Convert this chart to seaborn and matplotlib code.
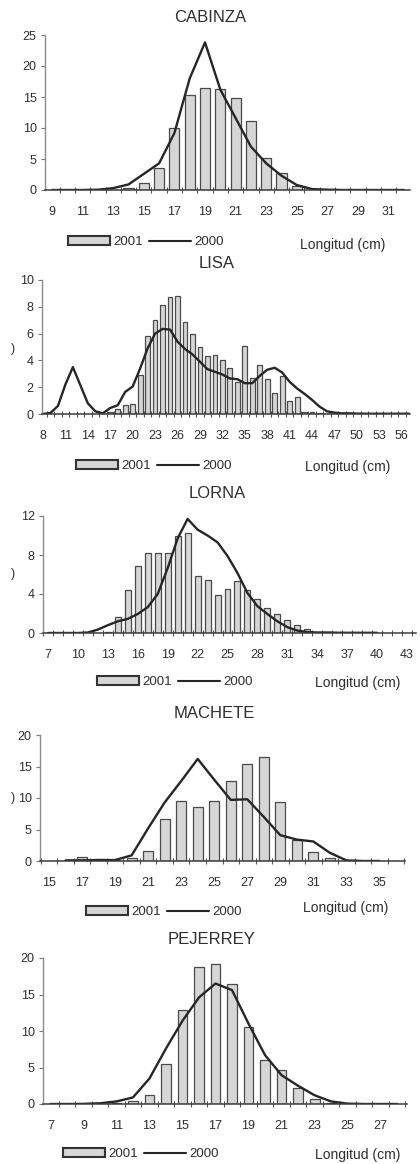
import numpy as np
import matplotlib
matplotlib.use("Agg")
import matplotlib.pyplot as plt
import seaborn as sns
from matplotlib.patches import Patch
from matplotlib.lines import Line2D
from matplotlib.ticker import FixedLocator

# ---------------- data: length-frequency (%) per species ----------------
# CABINZA
cab_bar_len = [14, 15, 16, 17, 18, 19, 20, 21, 22, 23, 24, 25]
cab_bar_pct = [0.3, 1.2, 3.5, 10.0, 15.3, 16.5, 16.3, 14.8, 11.2, 5.2, 2.7, 0.6]
cab_line_len = list(range(9, 33))
cab_line_pct = [0, 0, 0, 0.05, 0.3, 0.9, 2.6, 4.3, 9.2, 18.0, 23.8, 16.2,
                11.6, 7.0, 4.3, 2.3, 0.8, 0.15, 0.05, 0, 0, 0, 0, 0]
cab_xticks = list(range(9, 32, 2))
cab_yticks = [0, 5, 10, 15, 20, 25]

# LISA
lisa_bar_len = list(range(17, 46))
lisa_bar_pct = [0.15, 0.37, 0.65, 0.75, 2.9, 5.8, 7.0, 8.1, 8.7, 8.8, 6.9, 6.0,
                5.0, 4.3, 4.4, 4.0, 3.4, 2.4, 5.1, 2.65, 3.65, 2.6, 1.55, 2.8,
                0.95, 1.3, 0.17, 0.12, 0.08]
lisa_line_len = list(range(8, 58))
lisa_line_pct = [0, 0.08, 0.6, 2.2, 3.5, 2.15, 0.8, 0.2, 0.05, 0.45, 0.65,
                 1.65, 2.05, 3.4, 4.9, 6.0, 6.35, 6.3, 5.4, 4.85, 4.45, 3.9,
                 3.35, 3.15, 2.95, 2.65, 2.6, 2.3, 2.3, 2.85, 3.3, 3.45, 3.1,
                 2.4, 1.9, 1.5, 1.05, 0.55, 0.2, 0.1, 0.05, 0.05, 0.03, 0.02,
                 0.02, 0.02, 0.02, 0.02, 0.02, 0.02]
lisa_xticks = list(range(8, 57, 3))
lisa_yticks = [0, 2, 4, 6, 8, 10]

# LORNA
lorna_bar_len = list(range(13, 35))
lorna_bar_pct = [0.1, 1.6, 4.4, 6.9, 8.2, 8.2, 8.25, 10.0, 10.3, 5.8, 5.4, 3.85,
                 4.5, 5.35, 4.45, 3.5, 2.55, 1.95, 1.35, 0.8, 0.4, 0.1]
lorna_line_len = list(range(7, 41))
lorna_line_pct = [0, 0, 0, 0, 0.05, 0.35, 0.8, 1.2, 1.45, 1.95, 2.65, 4.0, 6.65,
                  9.7, 11.7, 10.6, 10.0, 9.3, 7.9, 6.15, 4.1, 2.75, 1.95, 1.2,
                  0.6, 0.25, 0.1, 0.05, 0.05, 0.03, 0.02, 0.02, 0.02, 0.02]
lorna_xticks = list(range(7, 44, 3))
lorna_yticks = [0, 4, 8, 12]

# MACHETE
mach_bar_len = list(range(17, 33))
mach_bar_pct = [0.65, 0.3, 0.2, 0.5, 1.55, 6.6, 9.5, 8.6, 9.55, 12.7, 15.4,
                16.45, 9.3, 3.3, 1.45, 0.4]
mach_line_len = list(range(16, 36))
mach_line_pct = [0.1, 0.1, 0.15, 0.15, 0.9, 5.2, 9.3, 12.7, 16.2, 12.9, 9.7,
                 9.8, 7.0, 4.1, 3.4, 3.1, 1.3, 0.1, 0, 0]
mach_xticks = list(range(15, 36, 2))
mach_yticks = [0, 5, 10, 15, 20]

# PEJERREY
pej_bar_len = list(range(11, 25))
pej_bar_pct = [0.1, 0.35, 1.3, 5.5, 12.9, 18.7, 19.2, 16.4, 10.6, 6.0, 4.6,
               2.2, 0.7, 0.1]
pej_line_len = list(range(7, 29))
pej_line_pct = [0, 0, 0.02, 0.1, 0.35, 0.9, 3.5, 7.6, 11.4, 14.6, 16.5, 15.6,
                11.0, 6.7, 3.95, 2.5, 1.2, 0.35, 0.05, 0, 0, 0]
pej_xticks = list(range(7, 28, 2))
pej_yticks = [0, 5, 10, 15, 20]

species = ["CABINZA", "LISA", "LORNA", "MACHETE", "PEJERREY"]
legend_labels = ["2001", "2000"]
x_label = "Longitud (cm)"

# ---------------- styling ----------------
W, H = 420, 1164
DPI = 100
BAR_FILL = "#d6d6d6"
BAR_EDGE = "#4a4a4a"
LINE_COLOR = "#262626"
TEXT_COLOR = "#2e2e2e"

sns.set_theme(style="white")
plt.rcParams["font.family"] = ["Liberation Sans", "DejaVu Sans"]
plt.rcParams["text.color"] = TEXT_COLOR
plt.rcParams["axes.labelcolor"] = TEXT_COLOR
plt.rcParams["xtick.color"] = TEXT_COLOR
plt.rcParams["ytick.color"] = TEXT_COLOR

fig = plt.figure(figsize=(W / DPI, H / DPI), dpi=DPI)
fig.patch.set_facecolor("white")

# panel geometry in pixels: axis left/right, y-max row, baseline row,
# x limits, title centre, legend anchor, axis label right end
panels = [
    dict(bars=(cab_bar_len, cab_bar_pct), line=(cab_line_len, cab_line_pct),
         xticks=cab_xticks, yticks=cab_yticks, L=45, R=410, T=35, B=190,
         xlim=(8.54, 32.4), title=(210, 18), leg=(68, 242), lab=(385, 245),
         width=0.66, paren=None),
    dict(bars=(lisa_bar_len, lisa_bar_pct), line=(lisa_line_len, lisa_line_pct),
         xticks=lisa_xticks, yticks=lisa_yticks, L=42, R=410, T=280, B=414,
         xlim=(7.87, 57.1), title=(217, 264), leg=(76, 466), lab=(390, 467),
         width=0.64, paren=349),
    dict(bars=(lorna_bar_len, lorna_bar_pct), line=(lorna_line_len, lorna_line_pct),
         xticks=lorna_xticks, yticks=lorna_yticks, L=43, R=416, T=516, B=633,
         xlim=(6.5, 43.9), title=(217, 493), leg=(97, 682), lab=(400, 683),
         width=0.6, paren=574),
    dict(bars=(mach_bar_len, mach_bar_pct), line=(mach_line_len, mach_line_pct),
         xticks=mach_xticks, yticks=mach_yticks, L=40, R=405, T=735, B=861,
         xlim=(14.45, 36.55), title=(214, 714), leg=(86, 912), lab=(388, 908),
         width=0.6, paren=798),
    dict(bars=(pej_bar_len, pej_bar_pct), line=(pej_line_len, pej_line_pct),
         xticks=pej_xticks, yticks=pej_yticks, L=43, R=407, T=958, B=1104,
         xlim=(6.55, 28.6), title=(212, 940), leg=(63, 1154), lab=(400, 1155),
         width=0.6, paren=None),
]

for name, p in zip(species, panels):
    L, R, T, B = p["L"], p["R"], p["T"], p["B"]
    ax = fig.add_axes([L / W, 1 - B / H, (R - L) / W, (B - T) / H])

    bx, by = p["bars"]
    sns.barplot(x=bx, y=by, native_scale=True, width=p["width"], ax=ax,
                color=BAR_FILL, saturation=1, edgecolor=BAR_EDGE,
                linewidth=0.9, errorbar=None)
    lx, ly = p["line"]
    sns.lineplot(x=lx, y=ly, ax=ax, color=LINE_COLOR, linewidth=1.7)

    ax.set_xlim(*p["xlim"])
    ax.set_ylim(0, max(p["yticks"]))
    ax.set_yticks(p["yticks"])
    ax.set_yticklabels([str(v) for v in p["yticks"]], fontsize=9)
    ax.set_xticks(p["xticks"])
    ax.set_xticklabels([str(v) for v in p["xticks"]], fontsize=9)
    lo, hi = p["xlim"]
    bounds = np.arange(np.ceil(lo - 0.5), np.floor(hi - 0.5) + 1) + 0.5
    ax.xaxis.set_minor_locator(FixedLocator(bounds))
    ax.tick_params(axis="x", which="both", bottom=True)
    ax.tick_params(axis="y", which="major", left=True)
    ax.tick_params(axis="x", which="major", length=0, pad=11.5)
    ax.tick_params(axis="x", which="minor", length=4, width=0.8,
                   direction="inout", color="#555555")
    ax.tick_params(axis="y", which="major", length=3, width=0.8,
                   direction="out", color="#777777", pad=3)

    for side in ("top", "right"):
        ax.spines[side].set_visible(False)
    ax.spines["left"].set_color("#8c8c8c")
    ax.spines["left"].set_linewidth(1.0)
    ax.spines["bottom"].set_color("#3c3c3c")
    ax.spines["bottom"].set_linewidth(1.1)
    ax.set_facecolor("none")
    ax.set_ylabel("")

    # axis title to the right of the legend row
    ax.set_xlabel(x_label, fontsize=10, ha="right", va="center")
    ax.xaxis.set_label_coords((p["lab"][0] - L) / (R - L),
                              (B - p["lab"][1]) / (B - T))

    handles = [Patch(facecolor=BAR_FILL, edgecolor="#333333", linewidth=1.5),
               Line2D([], [], color=LINE_COLOR, linewidth=1.5)]
    ax.legend(handles=handles, labels=legend_labels, loc="center left",
              bbox_to_anchor=(p["leg"][0] / W, 1 - p["leg"][1] / H),
              bbox_transform=fig.transFigure, ncol=2, frameon=False,
              fontsize=9.5, handlelength=3.2, handleheight=0.6,
              handletextpad=0.2, columnspacing=0.5, borderpad=0,
              borderaxespad=0)

    fig.text(p["title"][0] / W, 1 - p["title"][1] / H, name,
             ha="center", va="center", fontsize=12)
    if p["paren"] is not None:
        fig.text(13 / W, 1 - p["paren"] / H, ")", ha="center", va="center",
                 fontsize=9)

fig.savefig("out.png", dpi=DPI, facecolor="white")
